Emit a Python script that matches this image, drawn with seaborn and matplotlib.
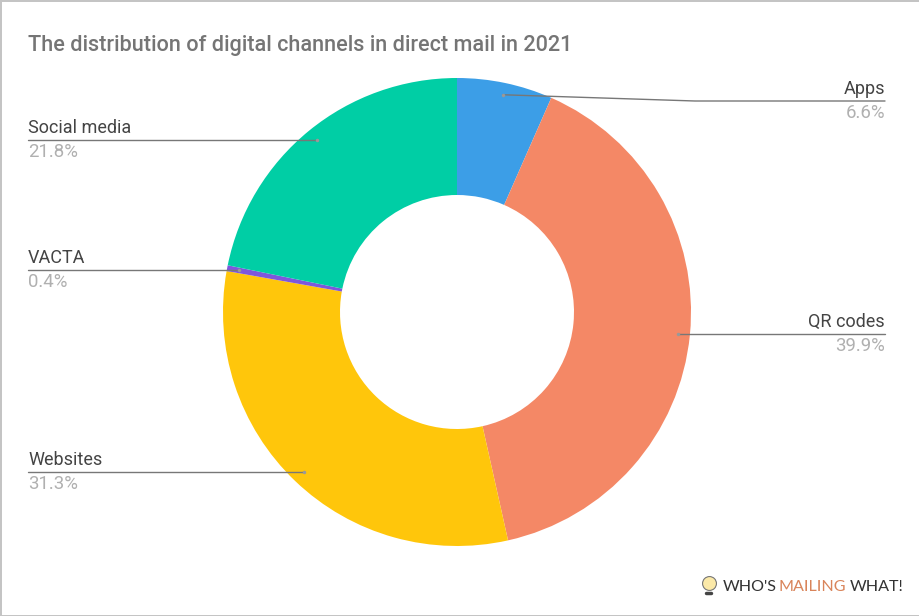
#seaborn
import seaborn as sns
import matplotlib.pyplot as plt
import numpy as np

names=['Apps','QR codes','Websites','VACTA','Social media']
vals=[6.6,39.9,31.3,0.4,21.8]
sns.set_theme(style='white',palette=['#3C9EE7','#F48866','#FFC60B','#7E57DC','#00CEA5'])
plt.rcParams['font.family']=['Roboto','DejaVu Sans']

plt.figure(figsize=(9.2,6.16),dpi=100,facecolor='white',edgecolor='#C4C4C4',linewidth=2)
plt.axes([0,0,1,1])

#도넛
cx,cy,r=457,312,234
plt.pie(vals,colors=sns.color_palette(),startangle=90,counterclock=False,center=(cx,616-cy),radius=r,
        wedgeprops=dict(width=r/2,linewidth=0),frame=True)
plt.xlim(0,920)
plt.ylim(0,616)
plt.axis('off')

#라벨
mid=(np.cumsum(vals)-np.array(vals)/2)/100*2*np.pi
for name,val,a in zip(names,vals,mid):
    x=cx+222*np.sin(a)
    y=616-cy+222*np.cos(a)
    right=np.sin(a)>0
    end=885 if right else 28
    ha='right' if right else 'left'
    ly=616-101 if name=='Apps' else y
    if name=='Apps':
        plt.plot([x,695,end],[y,ly,ly],color='#777777',lw=1)
    else:
        plt.plot([x,end],[y,ly],color='#777777',lw=1)
    plt.plot(x,y,'o',color='#999999',ms=2.5,mew=0)
    plt.text(end,ly+12,name,ha=ha,va='center',fontsize=13,color='#444444')
    plt.text(end,ly-12,f'{val}%',ha=ha,va='center',fontsize=13.4,color='#B0B0B0')

plt.text(28,616-46,'The distribution of digital channels in direct mail in 2021',fontsize=15.6,
         fontweight='medium',color='#757575',va='center')

#로고
plt.plot(709,616-583,'o',color='#FBE9A8',ms=10,mec='#777777',mew=0.8)
plt.plot([706.5,711.5],[616-593,616-593],color='#444444',lw=2.5)
for x,t,c in [(723,"WHO'S",'#333333'),(779,'MAILING','#D9845A'),(850,'WHAT!','#333333')]:
    plt.text(x,616-587,t,fontsize=11.6,color=c,va='center',family=['Lato','DejaVu Sans'])

plt.savefig('out.png',dpi=100,facecolor='white',edgecolor='#C4C4C4')
